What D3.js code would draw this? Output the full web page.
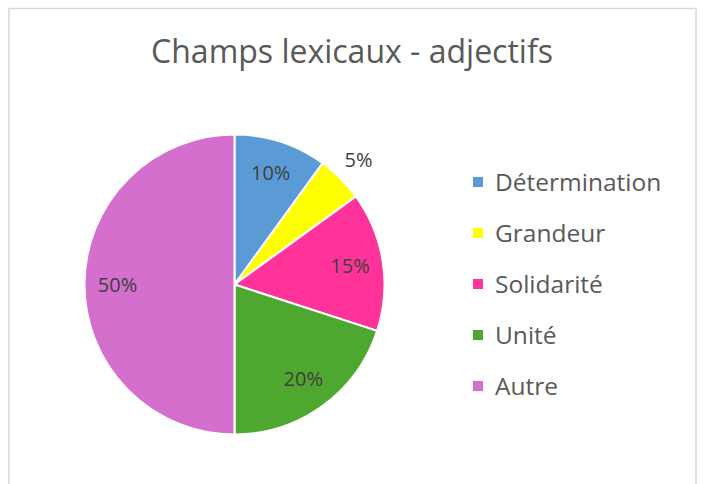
<!DOCTYPE html>
<html lang="fr">
<head>
  <meta charset="UTF-8">
  <title>Champs lexicaux - adjectifs</title>
  <script src="https://d3js.org/d3.v7.min.js"></script>
  <style>
    body { margin: 0; background: #fff; }
    svg { display: block; }
    text { font-family: "Open Sans", sans-serif; fill: #595959; }
    .label { fill: #404040; font-size: 20px; }
    .legend text { font-size: 24.5px; }
  </style>
</head>
<body>
  <svg width="707" height="484"></svg>

  <script>
    const categories = ["Détermination", "Grandeur", "Solidarité", "Unité", "Autre"];
    const values = [10, 5, 15, 20, 50];
    const colors = ["#5b9bd5", "#ffff00", "#ff3399", "#4ea72e", "#d46fcd"];

    const width = 707;
    const height = 484;
    const svg = d3.select("svg").attr("width", width).attr("height", height);

    // cadre du graphique
    svg.append("rect")
       .attr("x", 9).attr("y", 8.5)
       .attr("width", 687).attr("height", 490)
       .attr("fill", "none")
       .attr("stroke", "#d9d9d9")
       .attr("stroke-width", 1.5);

    svg.append("text")
       .attr("x", 352).attr("y", 63)
       .attr("text-anchor", "middle")
       .style("font-size", "32px")
       .text("Champs lexicaux - adjectifs");

    const cx = 234.5, cy = 284.5, r = 150;
    const total = d3.sum(values);
    const pie = d3.pie().sort(null).value(d => d);
    const arcs = pie(values);
    const arc = d3.arc().innerRadius(0).outerRadius(r);

    const g = svg.append("g").attr("transform", `translate(${cx}, ${cy})`);

    g.selectAll("path")
     .data(arcs)
     .join("path")
     .attr("d", arc)
     .attr("fill", (d, i) => colors[i])
     .attr("stroke", "#fff")
     .attr("stroke-width", 2);

    // étiquettes : dedans, sauf les petites parts
    g.selectAll(".label")
     .data(arcs)
     .join("text")
     .attr("class", "label")
     .attr("text-anchor", "middle")
     .attr("dy", "0.35em")
     .attr("transform", d => {
       const small = d.data / total < 0.08;
       const lr = small ? r * 1.17 : r * 0.78;
       const a = (d.startAngle + d.endAngle) / 2;
       return `translate(${Math.sin(a) * lr}, ${-Math.cos(a) * lr})`;
     })
     .text(d => Math.round(d.data / total * 100) + "%");

    const legendY = d3.scalePoint().domain(categories).range([182, 386]);
    const legend = svg.append("g").attr("class", "legend");
    const item = legend.selectAll("g")
       .data(categories)
       .join("g")
       .attr("transform", d => `translate(473, ${legendY(d)})`);
    item.append("rect")
        .attr("x", 0).attr("y", -5)
        .attr("width", 10).attr("height", 10)
        .attr("fill", (d, i) => colors[i]);
    item.append("text")
        .attr("x", 22).attr("dy", "0.35em")
        .text(d => d);
  </script>
</body>
</html>
